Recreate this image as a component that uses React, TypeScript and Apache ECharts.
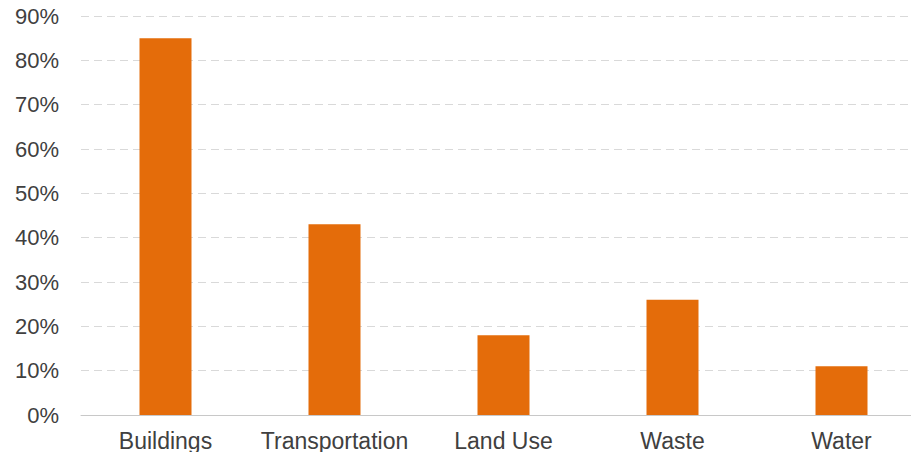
import React, { useEffect, useRef } from "react";
import * as echarts from "echarts";

const categories = ["Buildings", "Transportation", "Land Use", "Waste", "Water"];
const values = [85, 43, 18, 26, 11];
const yTicks = [0, 10, 20, 30, 40, 50, 60, 70, 80, 90];

export default function App() {
  const ref = useRef<HTMLDivElement>(null);
  useEffect(() => {
    if (!ref.current) return;
    const chart = echarts.init(ref.current, undefined, { renderer: "svg" });
    chart.setOption({
      animation: false,
      backgroundColor: "#ffffff",
      grid: { left: 81, top: 16, right: 0, bottom: 37, containLabel: false },
      xAxis: {
        type: "category",
        data: categories,
        axisLine: { show: true, lineStyle: { color: "#c8c8c8", width: 1 } },
        axisTick: { show: false },
        axisLabel: {
          interval: 0,
          color: "#404040",
          fontFamily: "Liberation Sans, Arial, sans-serif",
          fontSize: 23,
          margin: 14,
        },
      },
      yAxis: {
        type: "value",
        min: yTicks[0],
        max: yTicks[yTicks.length - 1],
        interval: 10,
        axisLine: { show: false },
        axisTick: { show: false },
        axisLabel: {
          color: "#404040",
          fontFamily: "Liberation Sans, Arial, sans-serif",
          fontSize: 22,
          margin: 22,
          formatter: (v: number) => `${v}%`,
        },
        splitLine: {
          show: true,
          lineStyle: { color: "#d9d9d9", type: [8, 5], width: 1 },
        },
      },
      series: [
        {
          type: "bar",
          data: values,
          barWidth: 52,
          itemStyle: { color: "#e46c0a" },
        },
      ],
    });
    return () => chart.dispose();
  }, []);
  return (
    <div
      ref={ref}
      style={{ position: "fixed", left: 0, top: 0, width: 926, height: 452 }}
    />
  );
}
